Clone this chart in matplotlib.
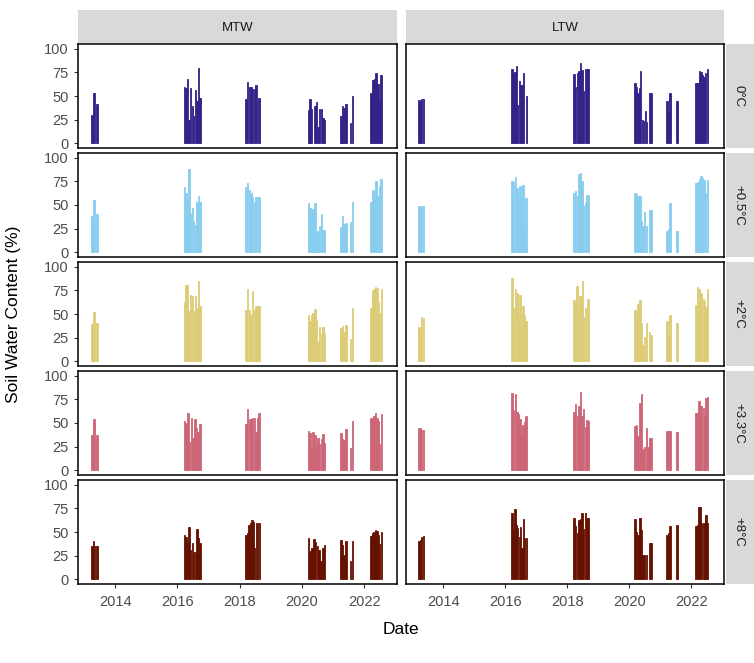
import numpy as np
import pandas as pd
import matplotlib
matplotlib.use("Agg")
from matplotlib import pyplot as plt
import matplotlib.dates as mdates

plt.rcParams["font.family"] = ["Liberation Sans", "DejaVu Sans"]

# Growing seasons with soil moisture records (start, end) for each site
mtw_seasons = [("2013-03-25", "2013-06-17"), ("2016-03-15", "2016-10-01"),
               ("2018-03-08", "2018-08-28"), ("2020-03-08", "2020-10-05"),
               ("2021-03-27", "2021-08-25"), ("2022-03-15", "2022-07-31")]
ltw_seasons = [("2013-03-15", "2013-05-20"), ("2016-03-15", "2016-09-15"),
               ("2018-03-15", "2018-09-20"), ("2020-03-01", "2020-09-25"),
               ("2021-03-10", "2021-07-28"), ("2022-02-20", "2022-07-20")]

# Soil water content (%) through each season, 0 = no record
mtw_0 = [[30, 53, 53, 42, 42],
         [60, 58, 68, 25, 58, 39, 29, 56, 45, 80, 48],
         [47, 65, 60, 60, 57, 57, 62, 0, 48],
         [35, 47, 36, 0, 39, 44, 17, 36, 36, 27, 25],
         [29, 39, 37, 42, 0, 0, 21, 50],
         [53, 67, 68, 74, 63, 45, 72]]
mtw_05 = [[38, 55, 55, 41, 41],
          [69, 63, 55, 88, 42, 47, 33, 29, 53, 59, 53],
          [69, 73, 66, 63, 58, 53, 58, 0, 58],
          [52, 47, 45, 46, 52, 20, 23, 28, 41, 24, 24],
          [27, 38, 30, 31, 0, 0, 32, 53],
          [53, 66, 57, 75, 60, 70, 78]]
mtw_2 = [[39, 52, 52, 41, 41],
         [63, 81, 81, 53, 70, 69, 53, 69, 56, 85, 58],
         [54, 76, 54, 49, 74, 54, 58, 58, 58],
         [49, 43, 49, 51, 55, 44, 20, 36, 29, 36, 30],
         [35, 37, 31, 38, 0, 0, 24, 56],
         [56, 74, 76, 79, 78, 63, 51, 76]]
mtw_33 = [[37, 54, 54, 37, 37],
          [52, 50, 61, 30, 55, 34, 54, 45, 41, 49],
          [49, 65, 54, 54, 55, 55, 41, 55, 61],
          [42, 39, 24, 41, 37, 25, 34, 28, 33, 38, 29],
          [39, 33, 32, 44, 0, 0, 24, 52],
          [55, 54, 57, 61, 55, 52, 28, 59]]
mtw_8 = [[35, 40, 35, 35, 35],
         [47, 45, 38, 55, 31, 38, 29, 29, 53, 44, 38],
         [47, 49, 57, 59, 63, 61, 33, 59, 59, 59],
         [44, 30, 33, 43, 39, 35, 31, 19, 33, 36],
         [42, 36, 26, 40, 0, 0, 19, 40],
         [46, 49, 50, 52, 51, 47, 37, 50]]

ltw_0 = [[46, 45, 47, 47],
         [79, 74, 75, 82, 41, 66, 62, 62, 74, 0, 50],
         [73, 60, 74, 76, 85, 78, 55, 79, 79, 79],
         [64, 60, 53, 58, 76, 25, 24, 34, 22, 0, 53, 53],
         [45, 34, 53, 0, 0, 0, 45],
         [64, 64, 76, 75, 72, 70, 74, 79]]
ltw_05 = [[49, 47, 49, 49],
          [75, 74, 80, 68, 58, 70, 56, 71, 29, 57],
          [63, 65, 60, 83, 84, 75, 49, 52, 61, 61],
          [63, 62, 59, 59, 33, 28, 43, 28, 0, 45, 45],
          [23, 25, 52, 0, 0, 0, 22],
          [73, 74, 78, 81, 79, 76, 63, 76]]
ltw_2 = [[36, 31, 47, 46],
         [88, 56, 76, 72, 45, 70, 35, 58, 49, 43],
         [65, 63, 80, 54, 69, 69, 85, 47, 56, 66, 66],
         [54, 45, 61, 65, 40, 17, 26, 40, 0, 31, 28],
         [43, 28, 49, 0, 0, 0, 41],
         [60, 79, 76, 72, 72, 66, 64, 57, 76]]
ltw_33 = [[45, 45, 43, 43],
          [82, 64, 81, 62, 59, 54, 38, 48, 51, 57],
          [62, 70, 57, 68, 83, 57, 65, 46, 53, 52],
          [47, 48, 36, 71, 81, 22, 25, 45, 25, 34, 34],
          [42, 42, 42, 0, 0, 0, 40],
          [61, 61, 73, 68, 68, 66, 57, 76, 77]]
ltw_8 = [[40, 42, 45, 46],
         [70, 52, 74, 57, 54, 45, 55, 33, 64, 44, 44],
         [65, 56, 49, 63, 64, 70, 53, 70, 65, 65],
         [64, 50, 47, 65, 52, 26, 26, 26, 0, 38, 38],
         [47, 49, 56, 0, 0, 0, 57],
         [56, 57, 76, 76, 59, 59, 60, 68, 59]]

treatments = ["0°C", "+0.5°C", "+2°C", "+3.3°C", "+8°C"]
sites = ["MTW", "LTW"]
colors = ["#332288", "#88CCEE", "#DDCC77", "#CC6677", "#661100"]

mtw_data = [mtw_0, mtw_05, mtw_2, mtw_33, mtw_8]
ltw_data = [ltw_0, ltw_05, ltw_2, ltw_33, ltw_8]


def draw_seasons(ax, seasons, values, color):
    # one bar per record, spread evenly over each season
    for (start, end), vals in zip(seasons, values):
        t0 = mdates.date2num(pd.Timestamp(start))
        t1 = mdates.date2num(pd.Timestamp(end))
        step = (t1 - t0) / len(vals)
        x = t0 + step * np.arange(len(vals))
        vals = np.array(vals, dtype=float)
        keep = vals > 0
        ax.bar(x[keep], vals[keep], width=step * 0.9, align="edge",
               color=color, edgecolor=color, linewidth=0.6)


W, H = 754, 663
fig = plt.figure(figsize=(W / 100, H / 100), dpi=100)

# panel layout in pixels
col_x = [(78, 397), (406, 724)]
top, bottom, gap = 44, 584, 5
row_h = (bottom - top - 4 * gap) / 5
strip_gray = "#D9D9D9"

xmin = mdates.date2num(pd.Timestamp("2012-10-20"))
xmax = mdates.date2num(pd.Timestamp("2023-01-22"))

for r in range(5):
    y1 = top + r * (row_h + gap)
    for c in range(2):
        x0, x1 = col_x[c]
        ax = fig.add_axes([x0 / W, 1 - (y1 + row_h) / H, (x1 - x0) / W, row_h / H])
        data = mtw_data[r] if c == 0 else ltw_data[r]
        seasons = mtw_seasons if c == 0 else ltw_seasons
        draw_seasons(ax, seasons, data, colors[r])

        ax.set_xlim(xmin, xmax)
        ax.set_ylim(-5, 105)
        ax.set_yticks([0, 25, 50, 75, 100])
        ax.xaxis.set_major_locator(mdates.YearLocator(2))
        ax.xaxis.set_major_formatter(mdates.DateFormatter("%Y"))
        for s in ax.spines.values():
            s.set_linewidth(1.1)
            s.set_color("black")
        ax.tick_params(colors="#333333", labelcolor="#4D4D4D", labelsize=10.5,
                       length=3, width=0.8)
        if c == 1:
            ax.tick_params(axis="y", left=False, labelleft=False)
        if r < 4:
            ax.tick_params(axis="x", bottom=False, labelbottom=False)
        else:
            ax.tick_params(axis="x", pad=5)

        # site strips on top
        if r == 0:
            sax = fig.add_axes([x0 / W, 1 - 43 / H, (x1 - x0) / W, 33 / H])
            sax.set_facecolor(strip_gray)
            sax.set_xticks([])
            sax.set_yticks([])
            for s in sax.spines.values():
                s.set_visible(False)
            sax.text(0.5, 0.45, sites[c], ha="center", va="center",
                     fontsize=9.5, color="#1A1A1A", transform=sax.transAxes)

    # treatment strips on the right
    tax = fig.add_axes([726 / W, 1 - (y1 + row_h) / H, 28 / W, row_h / H])
    tax.set_facecolor(strip_gray)
    tax.set_xticks([])
    tax.set_yticks([])
    for s in tax.spines.values():
        s.set_visible(False)
    tax.text(0.45, 0.5, treatments[r], ha="center", va="center", rotation=-90,
             fontsize=9.5, color="#1A1A1A", transform=tax.transAxes)

fig.text(14 / W, 1 - (top + bottom) / 2 / H, "Soil Water Content (%)",
         rotation=90, ha="center", va="center", fontsize=12.5)
fig.text((78 + 724) / 2 / W, 1 - 630 / H, "Date", ha="center", va="center",
         fontsize=12.5)

fig.savefig("out.png", dpi=100)
